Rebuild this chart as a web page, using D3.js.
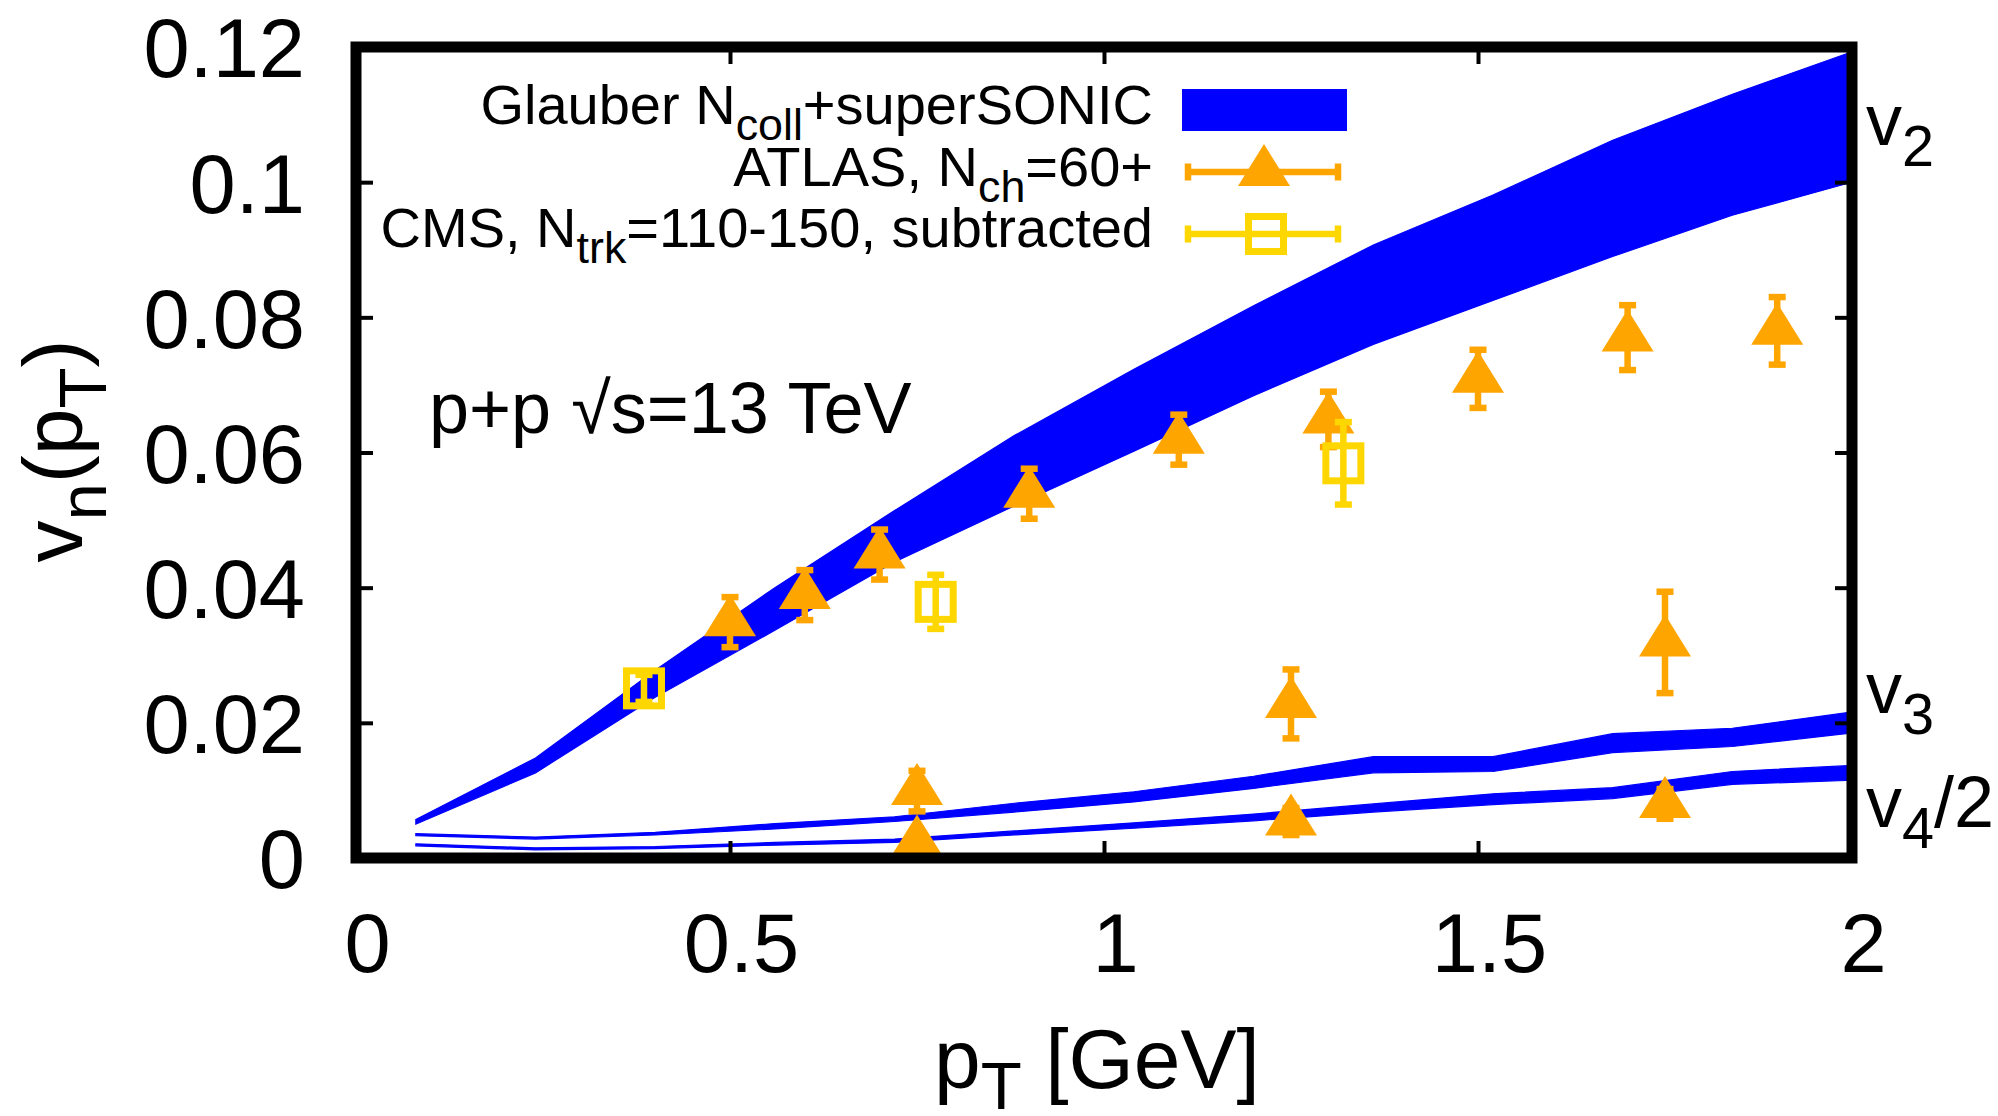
<!DOCTYPE html>
<html>
<head>
<meta charset="utf-8">
<script src="https://cdn.jsdelivr.net/npm/d3@7"></script>
<style>
  body { margin: 0; background: #fff; }
  svg { display: block; font-family: "Liberation Sans", Arial, sans-serif; }
</style>
</head>
<body>
<svg id="chart"></svg>
<script>
// superSONIC model bands (pT grid, lower / upper edge)
const ptGrid = [0.08, 0.24, 0.40, 0.56, 0.72, 0.88, 1.04, 1.20, 1.36, 1.52, 1.68, 1.84, 2.00];
const v2Lo = [0.0050, 0.0126, 0.0238, 0.0337, 0.0438, 0.0521, 0.0602, 0.0684, 0.0760, 0.0825, 0.0890, 0.0951, 0.1000];
const v2Hi = [0.0057, 0.0148, 0.0278, 0.0400, 0.0514, 0.0625, 0.0723, 0.0817, 0.0907, 0.0981, 0.1062, 0.1130, 0.1193];
const v3Lo = [0.0033, 0.0028, 0.0034, 0.0043, 0.0054, 0.0068, 0.0083, 0.0103, 0.0126, 0.0128, 0.0156, 0.0165, 0.0185];
const v3Hi = [0.0036, 0.0031, 0.0038, 0.0051, 0.0061, 0.0081, 0.0098, 0.0121, 0.0150, 0.0150, 0.0184, 0.0192, 0.0216];
const v4Lo = [0.0018, 0.0012, 0.0014, 0.0019, 0.0023, 0.0034, 0.0044, 0.0055, 0.0068, 0.0079, 0.0088, 0.0109, 0.0115];
const v4Hi = [0.0021, 0.0015, 0.0017, 0.0023, 0.0028, 0.0040, 0.0052, 0.0065, 0.0080, 0.0095, 0.0104, 0.0128, 0.0137];

// ATLAS, Nch=60+
const atlasV2Pt = [0.5, 0.6, 0.7, 0.9, 1.1, 1.3, 1.5, 1.7, 1.9];
const atlasV2 = [0.0349, 0.0389, 0.0449, 0.0539, 0.0619, 0.0649, 0.0709, 0.0770, 0.0780];
const atlasV2Err = [0.0037, 0.0037, 0.0037, 0.0037, 0.0037, 0.0041, 0.0043, 0.0048, 0.0050];
const atlasHnPt = [0.75, 1.25, 1.75];
const atlasV3 = [0.0099, 0.0228, 0.0319];
const atlasV3Err = [0.0030, 0.0051, 0.0075];
const atlasV4 = [0.0023, 0.0054, 0.0080];
const atlasV4Err = [0.0015, 0.0020, 0.0022];

// CMS, Ntrk=110-150, subtracted
const cmsPt = [0.385, 0.775, 1.32];
const cmsV2 = [0.0251, 0.0379, 0.0584];
const cmsV2Err = [0.0020, 0.0040, 0.0061];

const xTicks = [0, 0.5, 1, 1.5, 2];
const yTicks = [0, 0.02, 0.04, 0.06, 0.08, 0.1, 0.12];

const BLUE = "#0000ff", ORANGE = "#ffa500", GOLD = "#ffd700";
const width = 1998, height = 1116;
const frame = {left: 356, right: 1852, top: 47, bottom: 858};

const svg = d3.select("#chart").attr("width", width).attr("height", height);

const x = d3.scaleLinear().domain([0, 2]).range([frame.left, frame.right]);
const y = d3.scaleLinear().domain([0, 0.12]).range([frame.bottom, frame.top]);

// helper for text with subscripts: parts = [[text, isSub], ...]
function richText(g, parts, size, subShift) {
    const t = g.append("text").attr("font-size", size);
    let down = false;
    parts.forEach(([s, sub]) => {
        const ts = t.append("tspan").text(s);
        if (sub && !down) { ts.attr("dy", subShift).attr("font-size", size * 0.8); down = true; }
        else if (sub) { ts.attr("font-size", size * 0.8); }
        else if (down) { ts.attr("dy", -subShift); down = false; }
    });
    return t;
}

// model bands
const bandData = (lo, hi) => ptGrid.map((p, i) => ({p, lo: lo[i], hi: hi[i]}));
const area = d3.area().x(d => x(d.p)).y0(d => y(d.lo)).y1(d => y(d.hi));
const bands = svg.append("g");
[[v2Lo, v2Hi], [v3Lo, v3Hi], [v4Lo, v4Hi]].forEach(([lo, hi]) => {
    bands.append("path")
        .datum(bandData(lo, hi))
        .attr("d", area)
        .attr("fill", BLUE)
        .attr("stroke", BLUE)
        .attr("stroke-width", 1.2);
});

// error bars
function errorBars(g, pts, vals, errs, color) {
    const data = pts.map((p, i) => ({p, v: vals[i], e: errs[i]}));
    const eb = g.append("g").attr("stroke", color).attr("stroke-width", 6.5);
    eb.selectAll("line.bar").data(data).enter().append("line")
        .attr("x1", d => x(d.p)).attr("x2", d => x(d.p))
        .attr("y1", d => y(d.v + d.e)).attr("y2", d => y(d.v - d.e));
    eb.selectAll("line.top").data(data).enter().append("line")
        .attr("x1", d => x(d.p) - 8.5).attr("x2", d => x(d.p) + 8.5)
        .attr("y1", d => y(d.v + d.e)).attr("y2", d => y(d.v + d.e));
    eb.selectAll("line.bot").data(data).enter().append("line")
        .attr("x1", d => x(d.p) - 8.5).attr("x2", d => x(d.p) + 8.5)
        .attr("y1", d => y(d.v - d.e)).attr("y2", d => y(d.v - d.e));
    return data;
}

const triangle = "M0,-28L26,14L-26,14Z";
const marks = svg.append("g");
[[atlasV2Pt, atlasV2, atlasV2Err], [atlasHnPt, atlasV3, atlasV3Err], [atlasHnPt, atlasV4, atlasV4Err]]
    .forEach(([pts, vals, errs]) => {
        const data = errorBars(marks, pts, vals, errs, ORANGE);
        marks.selectAll(null).data(data).enter().append("path")
            .attr("d", triangle)
            .attr("transform", d => `translate(${x(d.p)},${y(d.v)})`)
            .attr("fill", ORANGE);
    });

const cmsData = errorBars(marks, cmsPt, cmsV2, cmsV2Err, GOLD);
marks.selectAll(null).data(cmsData).enter().append("rect")
    .attr("x", d => x(d.p) - 17.5).attr("y", d => y(d.v) - 17.5)
    .attr("width", 35).attr("height", 35)
    .attr("fill", "none").attr("stroke", GOLD).attr("stroke-width", 7);

// axes (inward ticks on all four sides)
const fmt = d => d === 0 ? "0" : String(+d.toFixed(2));
const tickLen = 17;
const xAxis = svg.append("g").attr("transform", `translate(0,${frame.bottom})`)
    .call(d3.axisBottom(x).tickValues(xTicks).tickSize(-tickLen).tickPadding(55).tickFormat(fmt));
xAxis.selectAll("text").attr("dx", 11);
const yAxis = svg.append("g").attr("transform", `translate(${frame.left},0)`)
    .call(d3.axisLeft(y).tickValues(yTicks).tickSize(-tickLen).tickPadding(51).tickFormat(fmt));
yAxis.selectAll("text").attr("dy", "0.36em");
svg.append("g").attr("transform", `translate(0,${frame.top})`)
    .call(d3.axisTop(x).tickValues(xTicks).tickSize(-tickLen).tickFormat(""));
svg.append("g").attr("transform", `translate(${frame.right},0)`)
    .call(d3.axisRight(y).tickValues(yTicks).tickSize(-tickLen).tickFormat(""));
svg.selectAll(".domain").remove();
svg.selectAll(".tick line").attr("stroke", "#000").attr("stroke-width", 4);
svg.selectAll(".tick text").attr("fill", "#000").attr("font-size", 83)
    .attr("font-family", "'Liberation Sans', Arial, sans-serif");

// frame on top
svg.append("rect")
    .attr("x", frame.left).attr("y", frame.top)
    .attr("width", frame.right - frame.left).attr("height", frame.bottom - frame.top)
    .attr("fill", "none").attr("stroke", "#000").attr("stroke-width", 11);

// axis titles
richText(svg.append("g").attr("transform", "translate(1097,1088)"), [["p", false], ["T", true], [" [GeV]", false]], 84, 21)
    .attr("text-anchor", "middle");
richText(svg.append("g").attr("transform", "translate(82,451) rotate(-90)"),
    [["v", false], ["n", true], ["(p", false], ["T", true], [")", false]], 84, 24)
    .attr("text-anchor", "middle");

// annotation
svg.append("text").attr("x", 429).attr("y", 433).attr("font-size", 72).text("p+p \u221As=13 TeV");

// harmonic labels at the right
const rlab = svg.append("g");
richText(rlab.append("g").attr("transform", "translate(1866,145)"), [["v", false], ["2", true]], 72, 21);
richText(rlab.append("g").attr("transform", "translate(1866,713)"), [["v", false], ["3", true]], 72, 21);
richText(rlab.append("g").attr("transform", "translate(1866,827)"), [["v", false], ["4", true], ["/2", false]], 72, 21);

// legend
const legend = svg.append("g");
const legX = 1153, legFont = 56, rowY = [110, 172, 234];
richText(legend.append("g").attr("transform", `translate(${legX},${rowY[0] + 14})`),
    [["Glauber N", false], ["coll", true], ["+superSONIC", false]], legFont, 16).attr("text-anchor", "end");
richText(legend.append("g").attr("transform", `translate(${legX},${rowY[1] + 14})`),
    [["ATLAS, N", false], ["ch", true], ["=60+", false]], legFont, 16).attr("text-anchor", "end");
richText(legend.append("g").attr("transform", `translate(${legX},${rowY[2] + 13})`),
    [["CMS, N", false], ["trk", true], ["=110-150, subtracted", false]], legFont, 16).attr("text-anchor", "end");

legend.append("rect").attr("x", 1182).attr("y", rowY[0] - 21).attr("width", 165).attr("height", 42).attr("fill", BLUE);
[[rowY[1], ORANGE], [rowY[2], GOLD]].forEach(([ry, c]) => {
    const g = legend.append("g").attr("stroke", c).attr("stroke-width", 6.5);
    g.append("line").attr("x1", 1185).attr("x2", 1341).attr("y1", ry).attr("y2", ry);
    g.append("line").attr("x1", 1188).attr("x2", 1188).attr("y1", ry - 8.5).attr("y2", ry + 8.5);
    g.append("line").attr("x1", 1338).attr("x2", 1338).attr("y1", ry - 8.5).attr("y2", ry + 8.5);
});
legend.append("path").attr("d", triangle).attr("transform", `translate(1264,${rowY[1]})`).attr("fill", ORANGE);
legend.append("rect").attr("x", 1266 - 17.5).attr("y", rowY[2] - 17.5).attr("width", 35).attr("height", 35)
    .attr("fill", "#fff").attr("stroke", GOLD).attr("stroke-width", 7);
legend.append("line").attr("x1", 1266 - 14).attr("x2", 1266 + 14).attr("y1", rowY[2]).attr("y2", rowY[2])
    .attr("stroke", GOLD).attr("stroke-width", 6.5);
</script>
</body>
</html>
